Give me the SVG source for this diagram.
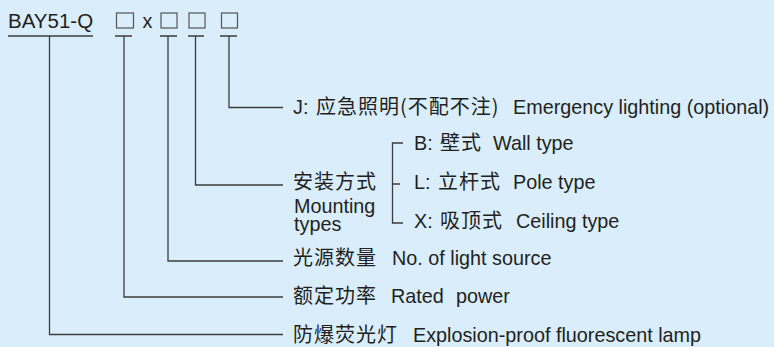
<svg xmlns="http://www.w3.org/2000/svg" width="774" height="347" viewBox="0 0 774 347">
<style>
.bg{fill:#d9eefa}
.t{font-family:"Liberation Sans",Arial,sans-serif;font-size:19.8px;fill:#231f20}
.c{font-family:"Noto Sans CJK SC","Liberation Sans",sans-serif;font-size:20px;letter-spacing:1px;fill:#231f20}
.ln{fill:none;stroke:#3c3c3c;stroke-width:1.3}
.box{fill:none;stroke:#555;stroke-width:1.2}
</style>
<rect class="bg" x="0" y="0" width="774" height="347"/>
<g id="code">
  <text class="t" x="8" y="27.5" style="font-size:20.5px">BAY51-Q</text>
  <rect class="box" x="116.5" y="13" width="17" height="15"/>
  <text class="t" x="142.5" y="27.5">x</text>
  <rect class="box" x="161" y="13" width="16" height="15"/>
  <rect class="box" x="189" y="13" width="16" height="15"/>
  <rect class="box" x="221.5" y="13" width="16" height="15"/>
</g>
<g id="connectors">
  <path class="ln" d="M8,36H93M115,36H132M160,36H177M188,36H204M220,36H237"/>
  <path class="ln" d="M49.5,36V334.5H283"/>
  <path class="ln" d="M124,36V297H283"/>
  <path class="ln" d="M168,36V261H283"/>
  <path class="ln" d="M195.5,36V185H283"/>
  <path class="ln" d="M229,36V107.5H283"/>
  <path class="ln" d="M403,143H392.5V223H403M392.5,184H400"/>
</g>
<g id="node-emergency">
  <text class="t" x="293" y="114">J:</text>
  <text class="c" x="316" y="114">应急照明(不配不注)</text>
  <text class="t" x="513" y="114">Emergency lighting (optional)</text>
</g>
<g id="node-mounting">
  <text class="c" x="293" y="189">安装方式</text>
  <text class="t" x="294" y="212.5">Mounting<tspan x="294" dy="18.5">types</tspan></text>
</g>
<g id="node-wall">
  <text class="t" x="414" y="150">B:</text>
  <text class="c" x="440" y="150">壁式</text>
  <text class="t" x="493" y="150">Wall type</text>
</g>
<g id="node-pole">
  <text class="t" x="414" y="189">L:</text>
  <text class="c" x="438" y="189">立杆式</text>
  <text class="t" x="513" y="189">Pole type</text>
</g>
<g id="node-ceiling">
  <text class="t" x="414" y="228">X:</text>
  <text class="c" x="440" y="228">吸顶式</text>
  <text class="t" x="516" y="228">Ceiling type</text>
</g>
<g id="node-source">
  <text class="c" x="293" y="265">光源数量</text>
  <text class="t" x="392" y="265">No. of light source</text>
</g>
<g id="node-power">
  <text class="c" x="293" y="303">额定功率</text>
  <text class="t" x="391" y="303">Rated</text>
  <text class="t" x="456" y="303">power</text>
</g>
<g id="node-lamp">
  <text class="c" x="293" y="342">防爆荧光灯</text>
  <text class="t" x="413" y="342">Explosion-proof fluorescent lamp</text>
</g>
</svg>
